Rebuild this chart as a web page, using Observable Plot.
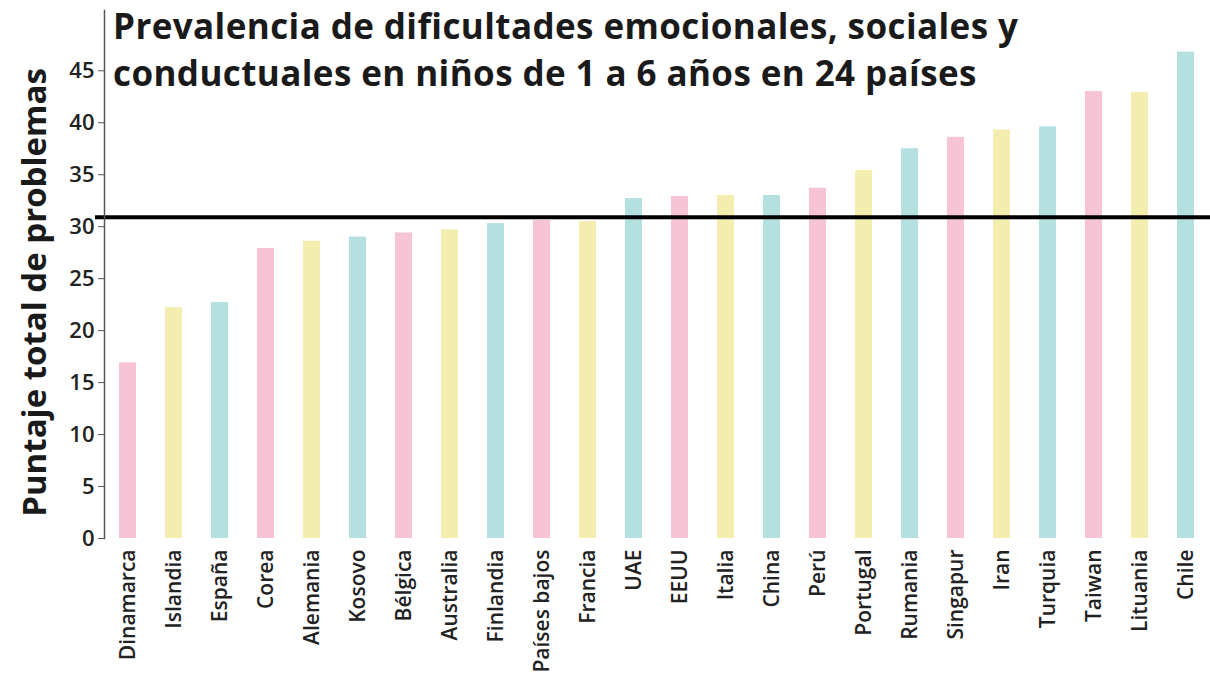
<!DOCTYPE html>
<html>
<head>
<meta charset="utf-8">
<script src="https://cdn.jsdelivr.net/npm/d3@7"></script>
<script src="https://cdn.jsdelivr.net/npm/@observablehq/plot@0.6"></script>
<style>
  html, body { margin: 0; padding: 0; background: #fff; }
  #wrap { position: relative; width: 1210px; height: 682px; overflow: hidden; }
  #title {
    position: absolute; left: 113px; top: 2px;
    font-family: "Open Sans", "Noto Sans", sans-serif; font-weight: 700;
    font-size: 35px; line-height: 47px; color: #1a1a1a; margin: 0;
    letter-spacing: 0.4px;
  }
</style>
</head>
<body>
<div id="wrap">
  <div id="chart"></div>
  <h1 id="title">Prevalencia de dificultades emocionales, sociales y<br>conductuales en niños de 1 a 6 años en 24 países</h1>
</div>
<script>
const paises = ["Dinamarca","Islandia","España","Corea","Alemania","Kosovo","Bélgica","Australia","Finlandia","Países bajos","Francia","UAE","EEUU","Italia","China","Perú","Portugal","Rumania","Singapur","Iran","Turquia","Taiwan","Lituania","Chile"];
const puntaje = [16.9, 22.2, 22.7, 27.9, 28.6, 29.0, 29.4, 29.7, 30.3, 30.6, 30.5, 32.7, 32.9, 33.0, 33.0, 33.7, 35.4, 37.5, 38.6, 39.3, 39.6, 43.0, 42.9, 46.8];
const referencia = 30.9;
const yTicks = [0, 5, 10, 15, 20, 25, 30, 35, 40, 45];
const colores = ["#f7c4d6", "#f4edb0", "#b5e0e0"];
const yLabel = "Puntaje total de problemas";

const data = paises.map((p, i) => ({pais: p, valor: puntaje[i], grupo: i % 3}));

const chart = Plot.plot({
  width: 1210,
  height: 682,
  marginTop: 10,
  marginBottom: 144,
  marginLeft: 104,
  marginRight: 0,
  style: {fontFamily: "'Open Sans', 'Noto Sans', sans-serif", color: "#222", background: "#fff"},
  x: {domain: paises, paddingInner: 0.63, paddingOuter: 0.315, label: null},
  y: {domain: [0, 50.8], label: null},
  color: {domain: [0, 1, 2], range: colores},
  marks: [
    Plot.barY(data, {x: "pais", y: "valor", fill: "grupo"}),
    Plot.ruleY([referencia], {stroke: "#000", strokeWidth: 4, insetLeft: -9}),
    Plot.axisY({ticks: yTicks, tickSize: 6, tickPadding: 4, fontSize: 22, fontWeight: 600, stroke: "#555", label: null}),
    Plot.axisX({tickSize: 0, tickPadding: 11, tickRotate: -90, fontSize: 21, fontWeight: 600, label: null}),
    Plot.frame({anchor: "left", stroke: "#555", strokeWidth: 1.5}),
    Plot.text([yLabel], {frameAnchor: "left", textAnchor: "middle", dx: -69, dy: 18, rotate: -90, fontSize: 33, fontWeight: 700, fill: "#1a1a1a"})
  ]
});
document.getElementById("chart").appendChild(chart);
</script>
</body>
</html>
